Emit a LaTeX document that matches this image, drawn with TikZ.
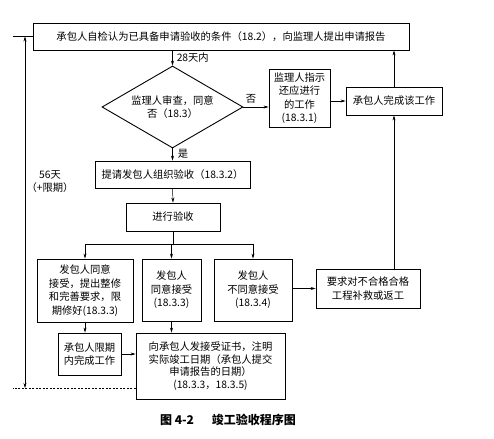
\documentclass[tikz,border=0pt]{standalone}
\usepackage{fontspec}
\newfontfamily\cjk{Noto Sans CJK SC}
\usetikzlibrary{shapes.geometric,arrows.meta,calc}
\begin{document}
\begin{tikzpicture}[x=1pt,y=-1pt,
  every node/.style={font=\cjk\fontsize{10.3}{13.5}\selectfont},
  box/.style={draw,line width=0.9pt,align=center,inner sep=0pt},
  dbox/.style={draw,line width=0.9pt,diamond,shape aspect=1.72,align=center,inner sep=0pt},
  arr/.style={line width=0.5pt,-{Stealth[length=5pt,width=3pt]}},
  ln/.style={line width=0.5pt},
  lbl/.style={inner sep=1pt}]
\useasboundingbox (0,0) rectangle (494,438);
\fill[white] (0,0) rectangle (494,438);

\node[box,minimum width=376pt,minimum height=27pt] (top) at (221,36.5)
  {承包人自检认为已具备申请验收的条件（18.2），向监理人提出申请报告};
\node[dbox,minimum width=141pt,minimum height=82pt] (dia) at (172.5,107)
  {监理人审查，同意\\否（18.3）};
\node[box,minimum width=61pt,minimum height=58pt] (jl) at (299.5,98)
  {监理人指示\\还应进行\\的工作\\(18.3.1)};
\node[box,minimum width=96pt,minimum height=28pt] (wc) at (394,101)
  {承包人完成该工作};
\node[box,minimum width=155pt,minimum height=27pt] (tq) at (172.5,174.5)
  {提请发包人组织验收（18.3.2）};
\node[box,minimum width=94pt,minimum height=28pt] (jx) at (173,217)
  {进行验收};
\node[box,minimum width=96pt,minimum height=63pt] (b1) at (85,290.5)
  {发包人同意\\接受，提出整修\\和完善要求，限\\期修好(18.3.3)};
\node[box,minimum width=59pt,minimum height=62pt] (b2) at (171.5,290)
  {发包人\\同意接受\\(18.3.3)};
\node[box,minimum width=78pt,minimum height=62pt] (b3) at (253,290)
  {发包人\\不同意接受\\(18.3.4)};
\node[box,minimum width=104pt,minimum height=39pt] (b4) at (368,288.5)
  {要求对不合格合格\\工程补救或返工};
\node[box,minimum width=63pt,minimum height=42pt] (c1) at (89.5,354)
  {承包人限期\\内完成工作};
\node[box,minimum width=149pt,minimum height=66pt,
  font=\cjk\fontsize{10.3}{12.5}\selectfont] (c2) at (210.5,366)
  {向承包人发接受证书，注明\\实际竣工日期（承包人提交\\申请报告的日期）\\(18.3.3，18.3.5)};

% connectors
\draw[arr] (dia.north |- top.south) -- (dia.north)
  node[lbl,pos=0.5,right=3pt] (l28) {28天内};
\draw[arr] (dia.east) -- (dia.east -| jl.west)
  node[lbl,pos=0.3,above=2pt] (lno) {否};
\draw[arr] (jl.east |- wc.west) -- (wc.west);
\draw[arr] (wc.north) -- (wc.north |- top.south);
\draw[arr] (wc.south |- b4.north) -- (wc.south);
\draw[arr] (dia.south) -- (tq.north)
  node[lbl,pos=0.45,right=4pt] (lyes) {是};
\draw[arr] (tq.south) -- (jx.north);
\coordinate (sp) at (173,244);
\draw[ln] (jx.south) -- (sp);
\draw[ln] (sp -| b1.north) -- (sp -| b3.north);
\draw[arr] (sp -| b1.north) -- (b1.north);
\draw[arr] (sp -| b2.north) -- (b2.north);
\draw[arr] (sp -| b3.north) -- (b3.north);
\draw[arr] (b3.east |- b4.west) -- (b4.west);
\draw[arr] (b1.south) -- (b1.south |- c1.north);
\draw[arr] (b2.south) -- (b2.south |- c2.north);
\draw[arr] (c1.east) -- (c1.east -| c2.west);

% dimension
\coordinate (e1) at (13,36.5);
\coordinate (e2) at (13,388);
\coordinate (d1) at (25,36.5);
\coordinate (d2) at (25,388);
\draw[ln] (top.west) -- (e1);
\draw[ln,dashed,dash pattern=on 2pt off 1.5pt] (c2.west |- e2) -- (e2);
\draw[line width=0.5pt,{Stealth[length=5pt,width=3pt]}-{Stealth[length=5pt,width=3pt]}] (d1) -- (d2);
\node[align=center,inner sep=0pt] (dim) at (50,181.5) {56天\\（+限期）};

\node[font=\cjk\bfseries\fontsize{12}{14}\selectfont] (cap) at (228,420)
  {图 4-2\hspace{1.5em}竣工验收程序图};
\end{tikzpicture}
\end{document}
